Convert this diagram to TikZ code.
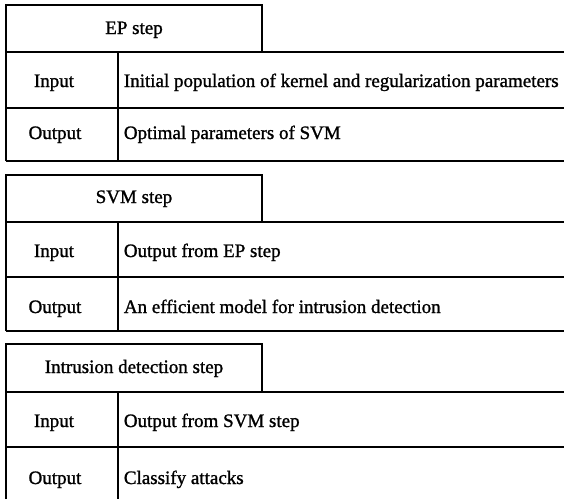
\documentclass[tikz,border=0pt]{standalone}
\usepackage{fontspec}
\setmainfont{Liberation Serif}[FakeBold=1.2]
\begin{document}
\begin{tikzpicture}[x=1pt,y=-1pt,line width=1.8pt,
  txt/.style={font=\fontsize{19}{22}\selectfont,inner sep=0pt,anchor=base},
  lefttxt/.style={txt,anchor=base west}]
\useasboundingbox (0,0) rectangle (564,499);
% block 1
\draw (6,52) -- (6,5) -- (262,5) -- (262,52);
\draw (6,161) -- (6,52) -- (564,52);
\draw (6,108) -- (564,108);
\draw (6,161) -- (564,161);
\draw (118,52) -- (118,161);
\node[txt] (t1) at (134,34) {EP step};
\node[txt] (i1) at (54,87) {Input};
\node[txt] (o1) at (55,139) {Output};
\node[lefttxt] (iv1) at (123,87) {Initial population of kernel and regularization parameters};
\node[lefttxt] (ov1) at (123,139) {Optimal parameters of SVM};
% block 2
\draw (6,222) -- (6,175) -- (262,175) -- (262,222);
\draw (6,331) -- (6,222) -- (564,222);
\draw (6,277) -- (564,277);
\draw (6,331) -- (564,331);
\draw (118,222) -- (118,331);
\node[txt] (t2) at (134,203) {SVM step};
\node[txt] (i2) at (54,257) {Input};
\node[txt] (o2) at (55,313) {Output};
\node[lefttxt] (iv2) at (123,257) {Output from EP step};
\node[lefttxt] (ov2) at (123,313) {An efficient model for intrusion detection};
% block 3
\draw (6,392) -- (6,344) -- (262,344) -- (262,392);
\draw (6,499) -- (6,392) -- (564,392);
\draw (6,447) -- (564,447);
\draw (118,392) -- (118,499);
\node[txt] (t3) at (134,373) {Intrusion detection step};
\node[txt] (i3) at (54,427) {Input};
\node[txt] (o3) at (55,484) {Output};
\node[lefttxt] (iv3) at (123,427) {Output from SVM step};
\node[lefttxt] (ov3) at (123,484) {Classify attacks};
\end{tikzpicture}
\end{document}
